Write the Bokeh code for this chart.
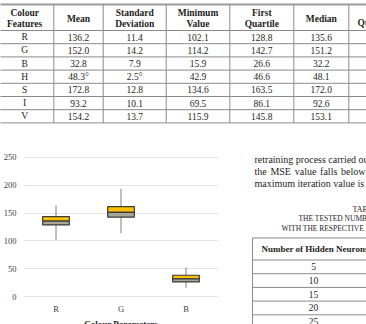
from bokeh.plotting import figure
from bokeh.layouts import column, row
from bokeh.models import Range1d, FixedTicker
from bokeh.core.properties import value
from bokeh.embed import file_html
from bokeh.resources import INLINE

SERIF = "Liberation Serif"
INK = "#1e1e1e"
RULE = "#8a8a8a"

# ---- Table I: statistics of the colour features ----
features = ["R", "G", "B", "H", "S", "I", "V"]
mean_vals = ["136.2", "152.0", "32.8", "48.3°", "172.8", "93.2", "154.2"]
std_vals = ["11.4", "14.2", "7.9", "2.5°", "12.8", "10.1", "13.7"]
min_vals = ["102.1", "114.2", "15.9", "42.9", "134.6", "69.5", "115.9"]
q1_vals = ["128.8", "142.7", "26.6", "46.6", "163.5", "86.1", "145.8"]
median_vals = ["135.6", "151.2", "32.2", "48.1", "172.0", "92.6", "153.1"]
headers = [["Colour", "Features"], ["Mean"], ["Standard", "Deviation"],
           ["Minimum", "Value"], ["First", "Quartile"], ["Median"]]
last_header = "Quartile"

# ---- Box plot of the RGB channels ----
channels = ["R", "G", "B"]
ch_min = [102.1, 114.2, 15.9]
ch_q1 = [128.8, 142.7, 26.6]
ch_median = [135.6, 151.2, 32.2]
ch_q3 = [143.6, 161.6, 38.6]
ch_max = [163.5, 193.5, 52.5]
y_ticks = [0, 50, 100, 150, 200, 250]
x_title = "Colour Parameters"

# ---- Table II: hidden neurons tested ----
neurons = ["5", "10", "15", "20", "25"]

para_line1 = "retraining process carried out until"
para_line2 = ["the", "MSE", "value", "falls", "below"]   # justified line
para_line3 = "maximum iteration value is reached."
caption = ["TABLE II",
           "THE TESTED NUMBER OF HIDDEN NEURONS",
           "WITH THE RESPECTIVE MSE"]


def blank(width, height, x0, x1, y_top, y_bottom):
    f = figure(width=width, height=height, output_backend="svg",
               toolbar_location=None, x_range=Range1d(x0, x1),
               y_range=Range1d(y_bottom, y_top), min_border=0,
               outline_line_color=None, background_fill_color="white",
               border_fill_color="white")
    f.axis.visible = False
    f.grid.visible = False
    return f


# ---------------- Table I ----------------
top = blank(366, 130, 0, 366, 0, 130)
col_edges = [-5, 53.3, 102.7, 165.7, 229.3, 293.3, 348.3]
row_edges = [4, 30, 43.2, 56.4, 69.6, 82.8, 96.0, 109.2, 122.4]

top.segment(x0=[-5] * (len(row_edges) - 1), x1=[412] * (len(row_edges) - 1),
            y0=row_edges[1:], y1=row_edges[1:], line_color=RULE, line_width=1)
top.segment(x0=[-5], x1=[412], y0=[row_edges[0]], y1=[row_edges[0]],
            line_color="#9a9a9a", line_width=2)
top.segment(x0=col_edges[1:], x1=col_edges[1:],
            y0=[row_edges[0]] * (len(col_edges) - 1),
            y1=[row_edges[-1]] * (len(col_edges) - 1),
            line_color=RULE, line_width=1)

centers = [(col_edges[i] + col_edges[i + 1]) / 2 for i in range(len(col_edges) - 1)]
hx, hy, ht = [], [], []
for cx, lines in zip(centers, headers):
    ys = [18] if len(lines) == 1 else [12.5, 23.5]
    for y, t in zip(ys, lines):
        hx.append(cx)
        hy.append(y)
        ht.append(t)
top.text(x=hx, y=hy, text=ht, text_font=value(SERIF), text_font_style="bold",
         text_font_size="9.5px", text_align="center", text_baseline="middle",
         text_color=INK)
top.text(x=[357], y=[22.5], text=[last_header], text_font=value(SERIF),
         text_font_style="bold", text_font_size="9.5px", text_align="left",
         text_baseline="middle", text_color=INK)

row_mid = [(row_edges[i] + row_edges[i + 1]) / 2 for i in range(1, len(row_edges) - 1)]
for cx, col in zip(centers, [features, mean_vals, std_vals, min_vals, q1_vals, median_vals]):
    top.text(x=[cx] * len(col), y=row_mid, text=col, text_font=value(SERIF),
             text_font_size="9.5px", text_align="center", text_baseline="middle",
             text_color=INK)

# ---------------- Box plot ----------------
# The frame spans the full height of the row; the value axis 0..250 sits
# inside it, with room below for the category names and the axis title.
box = figure(width=250, height=194, output_backend="svg", toolbar_location=None,
             x_range=channels, y_range=Range1d(-49.6, 297.8),
             min_border_left=20, min_border_right=32, min_border_top=0,
             min_border_bottom=0, outline_line_color=None,
             background_fill_color="white", border_fill_color="white")

box.segment(x0=channels, x1=channels, y0=ch_q3, y1=ch_max,
            line_color="#7f7f7f", line_width=1)
box.segment(x0=channels, x1=channels, y0=ch_min, y1=ch_q1,
            line_color="#7f7f7f", line_width=1)
box.vbar(x=channels, width=0.41, bottom=ch_median, top=ch_q3,
         fill_color="#FFC000", line_color="#3a3a3a", line_width=1.2)
box.vbar(x=channels, width=0.41, bottom=ch_q1, top=ch_median,
         fill_color="#a7a697", line_color="#3a3a3a", line_width=1.2)

box.xaxis.visible = False
box.xgrid.visible = False
box.ygrid.grid_line_color = "#e6e6e6"
box.ygrid.grid_line_width = 1
box.yaxis.ticker = FixedTicker(ticks=y_ticks)
yax = box.yaxis[0]
yax.axis_line_color = None
yax.major_tick_line_color = None
yax.minor_tick_line_color = None
yax.major_tick_out = 0
yax.major_tick_in = 0
yax.major_label_text_font = SERIF
yax.major_label_text_font_size = "8.5px"
yax.major_label_text_color = "#404040"
yax.major_label_standoff = 7

box.text(x=channels, y=[-22.7] * len(channels), text=channels,
         text_font=value(SERIF), text_font_size="8.5px", text_align="center",
         text_baseline="middle", text_color="#404040")
box.text(x=[channels[1]], y=[-39.4], text=[x_title], text_font=value(SERIF),
         text_font_size="9px", text_font_style="bold", text_align="center",
         text_baseline="top", text_color=INK)

# ---------------- Right column text + Table II ----------------
side = blank(116, 194, 250, 366, 130, 324)
text_kw = dict(text_font=value(SERIF), text_font_size="10px", text_align="left",
               text_baseline="middle", text_color=INK)
side.text(x=[254, 254], y=[158.5, 182.5], text=[para_line1, para_line3], **text_kw)
side.text(x=[254, 269.9, 294.2, 319.6, 340.5], y=[170.5] * len(para_line2),
          text=para_line2, **text_kw)
side.text(x=[352, 298, 281], y=[208.5, 218, 227.5], text=caption,
          text_font=value(SERIF), text_font_size=["8px", "7.5px", "7.5px"],
          text_align="left", text_baseline="middle", text_color=INK)

t2_lines = [237.5, 259.5, 273.2, 286.9, 300.6, 314.3]
side.segment(x0=[252] * len(t2_lines), x1=[420] * len(t2_lines),
             y0=t2_lines, y1=t2_lines, line_color=RULE, line_width=1)
side.segment(x0=[252], x1=[252], y0=[237.5], y1=[330], line_color=RULE, line_width=1)
side.text(x=[261], y=[248.5], text=["Number of Hidden Neurons"],
          text_font=value(SERIF), text_font_style="bold", text_font_size="9px",
          text_align="left", text_baseline="middle", text_color=INK)
side.text(x=[313] * len(neurons), y=[266.4, 280.0, 293.7, 307.4, 321.1], text=neurons,
          text_font=value(SERIF), text_font_size="9.5px", text_align="center",
          text_baseline="middle", text_color=INK)

page = column(top, row(box, side, spacing=0), spacing=0)
open("out.html", "w").write(file_html(page, INLINE))
